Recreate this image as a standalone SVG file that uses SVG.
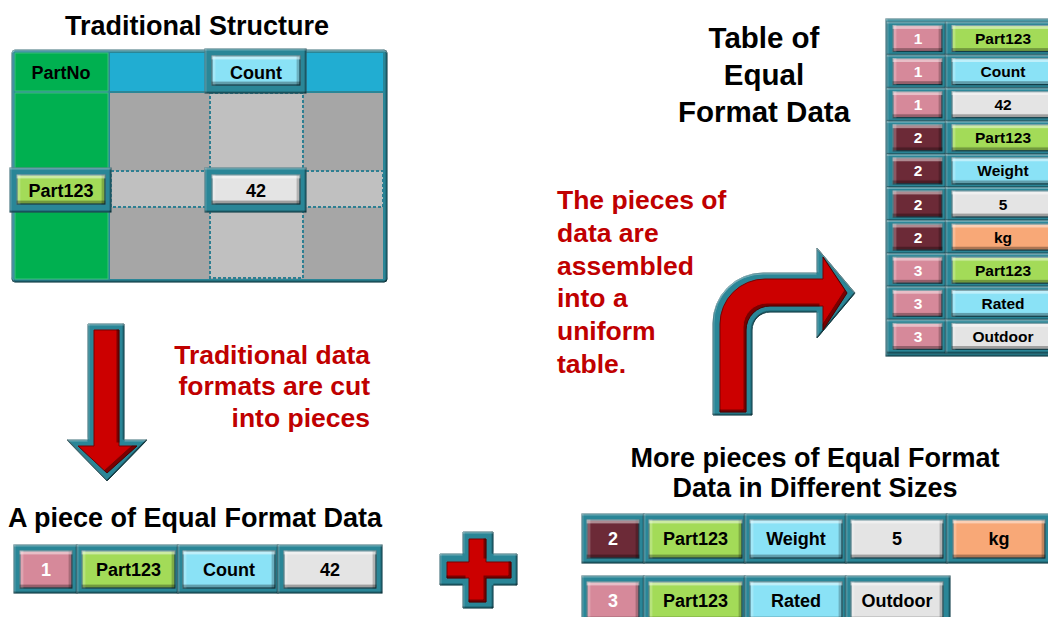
<svg xmlns="http://www.w3.org/2000/svg" width="1048" height="617" viewBox="0 0 1048 617">
<defs>
<filter id="bev" x="-0.05" y="-0.05" width="1.1" height="1.1" color-interpolation-filters="sRGB">
<feOffset in="SourceAlpha" dy="4" result="o1"/><feComposite in="SourceAlpha" in2="o1" operator="out" result="tp"/>
<feOffset in="SourceAlpha" dy="-4" result="o2"/><feComposite in="SourceAlpha" in2="o2" operator="out" result="bt"/>
<feOffset in="SourceAlpha" dx="4" result="o3"/><feComposite in="SourceAlpha" in2="o3" operator="out" result="lf"/>
<feOffset in="SourceAlpha" dx="-4" result="o4"/><feComposite in="SourceAlpha" in2="o4" operator="out" result="rt"/>
<feFlood flood-color="#fff" flood-opacity="0.22"/><feComposite in2="lf" operator="in" result="lfc"/>
<feFlood flood-color="#000" flood-opacity="0.22"/><feComposite in2="rt" operator="in" result="rtc"/>
<feFlood flood-color="#fff" flood-opacity="0.45"/><feComposite in2="tp" operator="in" result="tpc"/>
<feFlood flood-color="#000" flood-opacity="0.3"/><feComposite in2="bt" operator="in" result="btc"/>
<feMerge><feMergeNode in="SourceGraphic"/><feMergeNode in="lfc"/><feMergeNode in="rtc"/><feMergeNode in="tpc"/><feMergeNode in="btc"/></feMerge>
</filter>
<filter id="bev2" x="-0.05" y="-0.05" width="1.1" height="1.1" color-interpolation-filters="sRGB">
<feOffset in="SourceAlpha" dy="2" result="o1"/><feComposite in="SourceAlpha" in2="o1" operator="out" result="tp"/>
<feOffset in="SourceAlpha" dy="-2" result="o2"/><feComposite in="SourceAlpha" in2="o2" operator="out" result="bt"/>
<feOffset in="SourceAlpha" dx="2" result="o3"/><feComposite in="SourceAlpha" in2="o3" operator="out" result="lf"/>
<feOffset in="SourceAlpha" dx="-2" result="o4"/><feComposite in="SourceAlpha" in2="o4" operator="out" result="rt"/>
<feFlood flood-color="#fff" flood-opacity="0.2"/><feComposite in2="lf" operator="in" result="lfc"/>
<feFlood flood-color="#000" flood-opacity="0.25"/><feComposite in2="rt" operator="in" result="rtc"/>
<feFlood flood-color="#fff" flood-opacity="0.3"/><feComposite in2="tp" operator="in" result="tpc"/>
<feFlood flood-color="#000" flood-opacity="0.3"/><feComposite in2="bt" operator="in" result="btc"/>
<feMerge><feMergeNode in="SourceGraphic"/><feMergeNode in="lfc"/><feMergeNode in="rtc"/><feMergeNode in="tpc"/><feMergeNode in="btc"/></feMerge>
</filter>
<filter id="shade" x="-0.05" y="-0.05" width="1.1" height="1.1" color-interpolation-filters="sRGB">
<feOffset in="SourceAlpha" dx="-3" dy="-3" result="o"/><feComposite in="SourceAlpha" in2="o" operator="out" result="br"/>
<feFlood flood-color="#000" flood-opacity="0.4"/><feComposite in2="br" operator="in" result="brc"/>
<feMerge><feMergeNode in="SourceGraphic"/><feMergeNode in="brc"/></feMerge>
</filter>
</defs>
<style>
text{font-family:"Liberation Sans",Arial,Helvetica,sans-serif;font-weight:bold}
.h{font-size:27px;fill:#000;text-anchor:middle}
.h2{font-size:29.5px;fill:#000;text-anchor:middle}
.r{font-size:26.5px;fill:#c00000}
.t17{font-size:18px;fill:#000;text-anchor:middle}
.t15{font-size:15.5px;fill:#000;text-anchor:middle}
.w{fill:#fff}
.fr{fill:#2a8697;stroke:#1d6270;stroke-width:1;filter:url(#bev2)}
.btn{stroke:#1b5866;stroke-width:1.2;filter:url(#bev)}
.pk{fill:#d6899a}.mr{fill:#6c2a37}.lm{fill:#a3db58}.cy{fill:#8ae2f6}.wh{fill:#e4e4e4}.or{fill:#f8a877}
.dash{fill:#c0c0c0;stroke:#2e7f92;stroke-width:2;stroke-dasharray:3 2}
.teal{fill:#2a8697;stroke:#1d6270;stroke-width:1;filter:url(#bev2)}
.red{fill:#cc0000;stroke:#7a0000;stroke-width:1;filter:url(#shade)}
</style>
<rect width="1048" height="617" fill="#fff"/>

<g id="traditional-structure">
<text class="h" x="197" y="35">Traditional Structure</text>
<rect x="12" y="50" width="375" height="232" rx="3" class="fr"/>
<rect x="15" y="53" width="93" height="38" fill="#00b050" stroke="#3cc07a"/>
<rect x="110" y="53" width="273" height="38" fill="#21add2"/>
<rect x="15" y="93" width="93" height="186" fill="#00b050" stroke="#3cc07a"/>
<rect x="110" y="93" width="273" height="186" fill="#a6a6a6"/>
<rect x="210" y="93" width="93" height="185" class="dash"/>
<rect x="111" y="171" width="272" height="36" class="dash"/>
<text class="t17" x="61" y="79">PartNo</text>
<rect x="205" y="49" width="101" height="44" class="fr"/>
<rect x="212" y="56" width="88" height="29" class="btn cy"/>
<text class="t17" x="256" y="79">Count</text>
<rect x="10" y="168" width="101" height="44" class="fr"/>
<rect x="17" y="175" width="88" height="29" class="btn lm"/>
<text class="t17" x="61" y="197">Part123</text>
<rect x="205" y="168" width="101" height="44" class="fr"/>
<rect x="212" y="175" width="88" height="29" class="btn wh"/>
<text class="t17" x="256" y="197">42</text>
</g>

<g id="cut-label">
<text class="r" text-anchor="end" x="370" y="364">Traditional data</text>
<text class="r" text-anchor="end" x="370" y="395">formats are cut</text>
<text class="r" text-anchor="end" x="370" y="427">into pieces</text>
</g>

<g id="piece-one">
<text class="h" x="195" y="527">A piece of Equal Format Data</text>
<rect x="14" y="545" width="63" height="48" class="fr"/>
<rect x="77" y="545" width="101" height="48" class="fr"/>
<rect x="178" y="545" width="100" height="48" class="fr"/>
<rect x="278" y="545" width="104" height="48" class="fr"/>
<rect x="20" y="551" width="52" height="37" class="btn pk"/>
<rect x="82" y="551" width="93" height="37" class="btn lm"/>
<rect x="183" y="551" width="92" height="37" class="btn cy"/>
<rect x="284" y="551" width="92" height="37" class="btn wh"/>
<text class="t17 w" x="46" y="576">1</text>
<text class="t17" x="128.5" y="576">Part123</text>
<text class="t17" x="229" y="576">Count</text>
<text class="t17" x="330" y="576">42</text>
</g>

<g id="more-pieces">
<text class="h" x="815" y="467">More pieces of Equal Format</text>
<text class="h" x="815" y="497">Data in Different Sizes</text>
<rect x="582" y="514" width="62" height="49" class="fr"/>
<rect x="644" y="514" width="101" height="49" class="fr"/>
<rect x="745" y="514" width="101" height="49" class="fr"/>
<rect x="846" y="514" width="101" height="49" class="fr"/>
<rect x="947" y="514" width="103" height="49" class="fr"/>
<rect x="587" y="520" width="52" height="38" class="btn mr"/>
<rect x="649" y="520" width="93" height="38" class="btn lm"/>
<rect x="750" y="520" width="92" height="38" class="btn cy"/>
<rect x="851" y="520" width="92" height="38" class="btn wh"/>
<rect x="953" y="520" width="92" height="38" class="btn or"/>
<text class="t17 w" x="613" y="545">2</text>
<text class="t17" x="695.5" y="545">Part123</text>
<text class="t17" x="796" y="545">Weight</text>
<text class="t17" x="897" y="545">5</text>
<text class="t17" x="999" y="545">kg</text>
<rect x="582" y="576" width="62" height="49" class="fr"/>
<rect x="644" y="576" width="101" height="49" class="fr"/>
<rect x="745" y="576" width="101" height="49" class="fr"/>
<rect x="846" y="576" width="104" height="49" class="fr"/>
<rect x="587" y="582" width="52" height="38" class="btn pk"/>
<rect x="649" y="582" width="93" height="38" class="btn lm"/>
<rect x="750" y="582" width="92" height="38" class="btn cy"/>
<rect x="851" y="582" width="92" height="38" class="btn wh"/>
<text class="t17 w" x="613" y="607">3</text>
<text class="t17" x="695.5" y="607">Part123</text>
<text class="t17" x="796" y="607">Rated</text>
<text class="t17" x="897" y="607">Outdoor</text>
</g>

<g id="plus">
<polygon class="teal" points="463,532 493,532 493,554 517,554 517,585 493,585 493,608 463,608 463,585 440,585 440,554 463,554"/>
<polygon class="red" points="469,539 486,539 486,562 511,562 511,578 486,578 486,602 469,602 469,578 447,578 447,562 469,562"/>
</g>

<g id="assembled-label">
<text class="r" x="557" y="209">The pieces of</text>
<text class="r" x="557" y="242">data are</text>
<text class="r" x="557" y="274.5">assembled</text>
<text class="r" x="557" y="307">into a</text>
<text class="r" x="557" y="340">uniform</text>
<text class="r" x="557" y="373">table.</text>
</g>

<g id="equal-format-table">
<text class="h2" x="764" y="48">Table of</text>
<text class="h2" x="764" y="85">Equal</text>
<text class="h2" x="764" y="122">Format Data</text>
<rect x="886" y="19" width="170" height="337" class="fr"/>
<g id="row1"><rect x="887" y="22" width="59" height="33.1" class="fr"/><rect x="946" y="22" width="106" height="33.1" class="fr"/><rect x="893" y="25.5" width="49" height="26" class="btn pk"/><rect x="952" y="25.5" width="102" height="26" class="btn lm"/><text class="t15 w" x="918" y="44">1</text><text class="t15" x="1003" y="44">Part123</text></g>
<g id="row2"><rect x="887" y="55.1" width="59" height="33.1" class="fr"/><rect x="946" y="55.1" width="106" height="33.1" class="fr"/><rect x="893" y="58.6" width="49" height="26" class="btn pk"/><rect x="952" y="58.6" width="102" height="26" class="btn cy"/><text class="t15 w" x="918" y="77.1">1</text><text class="t15" x="1003" y="77.1">Count</text></g>
<g id="row3"><rect x="887" y="88.2" width="59" height="33.1" class="fr"/><rect x="946" y="88.2" width="106" height="33.1" class="fr"/><rect x="893" y="91.7" width="49" height="26" class="btn pk"/><rect x="952" y="91.7" width="102" height="26" class="btn wh"/><text class="t15 w" x="918" y="110.2">1</text><text class="t15" x="1003" y="110.2">42</text></g>
<g id="row4"><rect x="887" y="121.3" width="59" height="33.1" class="fr"/><rect x="946" y="121.3" width="106" height="33.1" class="fr"/><rect x="893" y="124.8" width="49" height="26" class="btn mr"/><rect x="952" y="124.8" width="102" height="26" class="btn lm"/><text class="t15 w" x="918" y="143.3">2</text><text class="t15" x="1003" y="143.3">Part123</text></g>
<g id="row5"><rect x="887" y="154.4" width="59" height="33.1" class="fr"/><rect x="946" y="154.4" width="106" height="33.1" class="fr"/><rect x="893" y="157.9" width="49" height="26" class="btn mr"/><rect x="952" y="157.9" width="102" height="26" class="btn cy"/><text class="t15 w" x="918" y="176.4">2</text><text class="t15" x="1003" y="176.4">Weight</text></g>
<g id="row6"><rect x="887" y="187.5" width="59" height="33.1" class="fr"/><rect x="946" y="187.5" width="106" height="33.1" class="fr"/><rect x="893" y="191" width="49" height="26" class="btn mr"/><rect x="952" y="191" width="102" height="26" class="btn wh"/><text class="t15 w" x="918" y="209.5">2</text><text class="t15" x="1003" y="209.5">5</text></g>
<g id="row7"><rect x="887" y="220.6" width="59" height="33.1" class="fr"/><rect x="946" y="220.6" width="106" height="33.1" class="fr"/><rect x="893" y="224.1" width="49" height="26" class="btn mr"/><rect x="952" y="224.1" width="102" height="26" class="btn or"/><text class="t15 w" x="918" y="242.6">2</text><text class="t15" x="1003" y="242.6">kg</text></g>
<g id="row8"><rect x="887" y="253.7" width="59" height="33.1" class="fr"/><rect x="946" y="253.7" width="106" height="33.1" class="fr"/><rect x="893" y="257.2" width="49" height="26" class="btn pk"/><rect x="952" y="257.2" width="102" height="26" class="btn lm"/><text class="t15 w" x="918" y="275.7">3</text><text class="t15" x="1003" y="275.7">Part123</text></g>
<g id="row9"><rect x="887" y="286.8" width="59" height="33.1" class="fr"/><rect x="946" y="286.8" width="106" height="33.1" class="fr"/><rect x="893" y="290.3" width="49" height="26" class="btn pk"/><rect x="952" y="290.3" width="102" height="26" class="btn cy"/><text class="t15 w" x="918" y="308.8">3</text><text class="t15" x="1003" y="308.8">Rated</text></g>
<g id="row10"><rect x="887" y="319.9" width="59" height="33.1" class="fr"/><rect x="946" y="319.9" width="106" height="33.1" class="fr"/><rect x="893" y="323.4" width="49" height="26" class="btn pk"/><rect x="952" y="323.4" width="102" height="26" class="btn wh"/><text class="t15 w" x="918" y="341.9">3</text><text class="t15" x="1003" y="341.9">Outdoor</text></g>
</g>

<g id="connectors">
<g id="down-arrow">
<polygon class="teal" points="88,324 124,324 124,440 147,440 107,481 67,440 88,440"/>
<polygon class="red" points="94,330 119,330 119,446 137,446 107,473 78,446 94,446"/>
</g>
<g id="turn-arrow">
<path class="teal" d="M713,415 L713,323 A50,50 0 0 1 763,273 L817,273 L817,248 L855,293 L817,338 L817,312 L770,312 A18,18 0 0 0 752,330 L752,415 Z"/>
<path class="red" d="M720,412 L720,324 A45,45 0 0 1 765,279 L823,279 L823,257 L847,293 L823,330 L823,306 L770,306 A24,24 0 0 0 746,330 L746,412 Z"/>
</g>
</g>
</svg>
